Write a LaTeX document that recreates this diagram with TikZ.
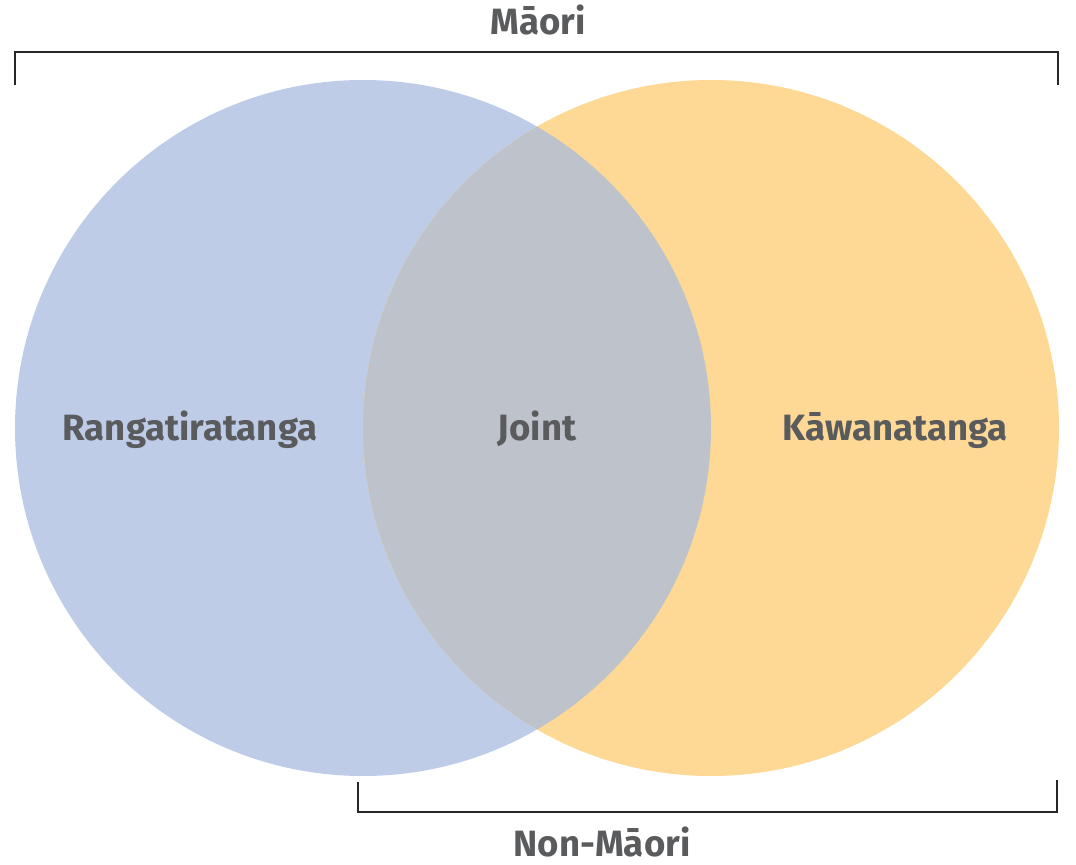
\documentclass[tikz,border=0pt]{standalone}
\usepackage{fontspec}
\setmainfont{Fira Sans}
\usepackage{xcolor}
\usepackage{tikz}
\usetikzlibrary{positioning}

\definecolor{rangablue}{HTML}{BFCCE8}
\definecolor{kawaorange}{HTML}{FDD995}
\definecolor{jointgrey}{HTML}{BEC3CB}
\definecolor{labelgrey}{HTML}{5A5B5D}

\begin{document}
\begin{tikzpicture}[
				x = 0.025cm, y = -0.025cm,
				label/.style = {text = labelgrey, font = \fontsize{26}{28}\selectfont\bfseries, inner sep = 0pt, anchor = base},
				bracket/.style = {draw = black!85, line width = 2.1pt, line cap = rect}
			]

			\useasboundingbox (0,0) rectangle (1076,865);

			% the two circles and their lens
			\fill[rangablue] (363,428) circle[radius = 348];
			\fill[kawaorange] (711,428) circle[radius = 348];
			\begin{scope}
				\clip (363,428) circle[radius = 348];
				\fill[jointgrey] (711,428) circle[radius = 348];
			\end{scope}

			\node[label] (ranga) at (190,440) {Rangatiratanga};
			\node[label] (joint) at (537,440) {Joint};
			\node[label] (kawa) at (895,440) {Kāwanatanga};

			% brackets
			\coordinate (mtl) at (15,84);
			\coordinate (mtr) at (1058,84);
			\draw[bracket] (mtl) -- (15,52) -- (1058,52) -- (mtr);
			\node[label] (maori) at (538,35) {Māori};

			\coordinate (nbl) at (358,783);
			\coordinate (nbr) at (1057,781);
			\draw[bracket] (nbl) -- (358,812) -- (1057,812) -- (nbr);
			\node[label] (nonmaori) at (602,856) {Non-Māori};

			\end{tikzpicture}
\end{document}
